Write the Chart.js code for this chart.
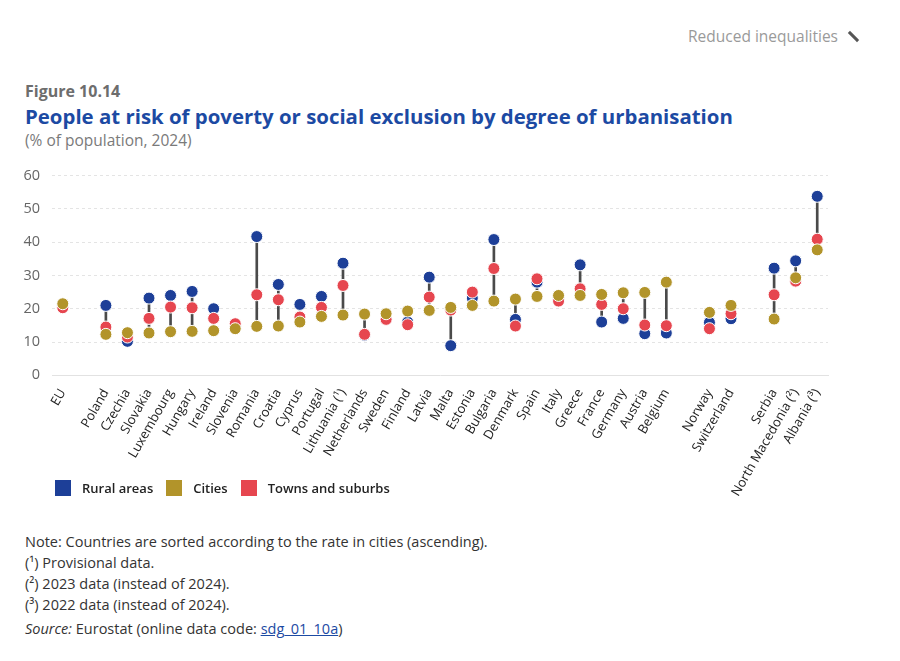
<!DOCTYPE html>
<html>
<head>
<meta charset="utf-8">
<script src="https://cdn.jsdelivr.net/npm/chart.js@4.4.1/dist/chart.umd.min.js"></script>
<style>
  body { margin: 0; background: #fff; font-family: 'Open Sans', sans-serif; }
  #page { position: relative; width: 900px; height: 661px; overflow: hidden; }
  .abs { position: absolute; white-space: nowrap; }
  #theme { right: 62px; top: 25px; font-size: 15.5px; color: #9a9a9a; }
  #icon { left: 852px; top: 30px; width: 3px; height: 13px; background: #555; transform: rotate(-45deg); }
  #fig { left: 25px; top: 80px; font-size: 16px; font-weight: 700; color: #6d6d6d; }
  #title { left: 25px; top: 102px; font-size: 20.4px; font-weight: 700; color: #1c4aa3; }
  #sub { left: 25px; top: 129px; font-size: 15.5px; color: #7a7a7a; }
  #legend { left: 55px; top: 479px; display: flex; align-items: center; font-size: 13px; font-weight: 600; color: #222; }
  #legend .box { width: 16px; height: 16px; margin-right: 11px; }
  #legend .txt { margin-right: 13px; }
  #notes { left: 25px; top: 531px; font-size: 14.5px; color: #333; line-height: 21px; }
  #notes a { color: #1c4aa3; }
  #wrap { position: absolute; left: 8px; top: 155px; width: 840px; height: 347px; }
</style>
</head>
<body>
<div id="page">
  <div class="abs" id="theme">Reduced inequalities</div>
  <div class="abs" id="icon"></div>
  <div class="abs" id="fig">Figure 10.14</div>
  <div class="abs" id="title">People at risk of poverty or social exclusion by degree of urbanisation</div>
  <div class="abs" id="sub">(% of population, 2024)</div>
  <div id="wrap"><canvas id="chart"></canvas></div>
  <div class="abs" id="legend"></div>
  <div class="abs" id="notes">
    <div>Note: Countries are sorted according to the rate in cities (ascending).</div>
    <div>(¹) Provisional data.</div>
    <div>(²) 2023 data (instead of 2024).</div>
    <div>(³) 2022 data (instead of 2024).</div>
    <div style="margin-top:3px"><i>Source:</i> Eurostat (online data code: <a href="#">sdg_01_10a</a>)</div>
  </div>
</div>
<script>
const countries = ['EU', '', 'Poland', 'Czechia', 'Slovakia', 'Luxembourg', 'Hungary', 'Ireland', 'Slovenia',
  'Romania', 'Croatia', 'Cyprus', 'Portugal', 'Lithuania (¹)', 'Netherlands', 'Sweden', 'Finland', 'Latvia',
  'Malta', 'Estonia', 'Bulgaria', 'Denmark', 'Spain', 'Italy', 'Greece', 'France', 'Germany', 'Austria',
  'Belgium', ' ', 'Norway', 'Switzerland', '  ', 'Serbia', 'North Macedonia (²)', 'Albania (³)'];

const rural = [21.0, null, 21.0, 10.2, 23.2, 24.0, 25.2, 20.0, 14.8,
  41.7, 27.3, 21.3, 23.7, 33.7, 12.0, 17.0, 16.0, 29.5,
  8.9, 23.2, 40.8, 16.8, 28.0, 22.8, 33.2, 16.0, 17.1, 12.5,
  12.7, null, 15.9, 17.0, null, 32.2, 34.4, 53.8];

const cities = [21.5, null, 12.3, 12.8, 12.7, 13.1, 13.2, 13.4, 14.0,
  14.7, 14.8, 16.0, 17.7, 18.1, 18.4, 18.5, 19.3, 19.5,
  20.4, 21.0, 22.3, 22.9, 23.7, 24.0, 24.0, 24.3, 24.8, 24.9,
  28.0, null, 18.9, 21.0, null, 16.9, 29.3, 37.7];

const towns = [20.3, null, 14.5, 11.5, 17.1, 20.5, 20.3, 17.1, 15.5,
  24.2, 22.7, 17.5, 20.4, 27.0, 12.3, 16.8, 15.2, 23.5,
  19.6, 25.0, 32.1, 14.8, 29.0, 22.3, 26.0, 21.3, 20.0, 15.1,
  14.9, null, 14.0, 18.5, null, 24.2, 28.3, 40.9];

const yTicks = [0, 10, 20, 30, 40, 50, 60];

const seriesNames = ['Rural areas', 'Cities', 'Towns and suburbs'];
const seriesColors = ['#1d3f98', '#b2942a', '#e6464f'];

const ranges = countries.map((c, i) => {
  const v = [rural[i], cities[i], towns[i]].filter((x) => x !== null);
  return v.length ? [Math.min(...v), Math.max(...v)] : null;
});

const dot = (label, data, color, order) => ({
  type: 'line',
  label,
  data,
  order,
  showLine: false,
  backgroundColor: color,
  borderColor: '#ffffff',
  pointBackgroundColor: color,
  pointBorderColor: '#ffffff',
  pointBorderWidth: 1,
  pointRadius: 6,
  pointHoverRadius: 6
});

// legend under the axis labels
const legend = document.getElementById('legend');
seriesNames.forEach((name, i) => {
  legend.insertAdjacentHTML('beforeend',
    `<span class="box" style="background:${seriesColors[i]}"></span><span class="txt">${name}</span>`);
});

new Chart(document.getElementById('chart'), {
  data: {
    labels: countries,
    datasets: [
      dot(seriesNames[0], rural, seriesColors[0], 2),
      dot(seriesNames[1], cities, seriesColors[1], 0),
      dot(seriesNames[2], towns, seriesColors[2], 1),
      {
        type: 'bar',
        label: 'range',
        data: ranges,
        order: 5,
        backgroundColor: '#4a4a4a',
        barThickness: 2,
        borderSkipped: false
      }
    ]
  },
  options: {
    responsive: true,
    maintainAspectRatio: false,
    animation: false,
    layout: { padding: { top: 3, right: 20, left: 0, bottom: 0 } },
    plugins: {
      tooltip: { enabled: false },
      legend: { display: false }
    },
    scales: {
      x: {
        offset: true,
        grid: { display: false },
        border: { display: true, color: '#e2e2e2' },
        ticks: {
          autoSkip: false,
          maxRotation: 60,
          minRotation: 60,
          padding: 3,
          color: '#222',
          font: { family: 'Open Sans', size: 13 }
        }
      },
      y: {
        min: 0,
        max: 60,
        afterFit: (s) => { s.width = 44; },
        afterBuildTicks: (s) => { s.ticks = yTicks.map((v) => ({ value: v })); },
        grid: { color: '#e4e4e4', drawTicks: false },
        border: { display: false, dash: [3, 3] },
        ticks: {
          padding: 12,
          color: '#666',
          font: { family: 'Open Sans', size: 14.5 }
        }
      }
    }
  }
});
</script>
</body>
</html>
